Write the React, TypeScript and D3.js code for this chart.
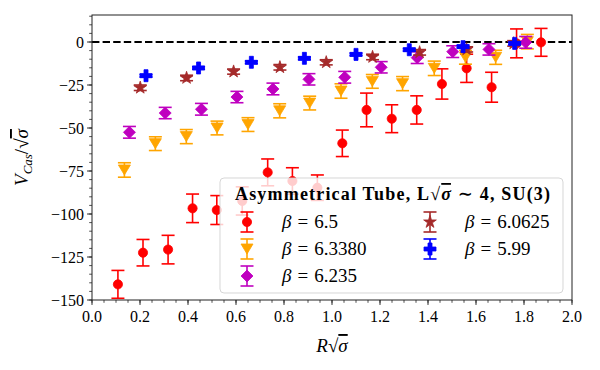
import * as d3 from "d3";

const WIDTH = 600;
const HEIGHT = 370;
const MARGIN = { top: 15, right: 28, bottom: 70, left: 92 };

// beta = 6.5
const redX = [0.108, 0.2125, 0.317, 0.419, 0.52, 0.626, 0.732, 0.835, 0.939, 1.043, 1.144, 1.249, 1.353, 1.458, 1.561, 1.665, 1.769, 1.871];
const redY = [-140.9, -122.5, -120.7, -96.7, -97.7, -92.4, -75.8, -80.8, -84.7, -58.9, -39.5, -44.6, -39.5, -24.4, -15.3, -26.3, -0.8, -0.2];
const redErr = [8.1, 7.7, 8.3, 8.3, 8.4, 8.2, 7.8, 7.7, 7.4, 7.7, 9.8, 8.1, 8.2, 8.8, 8.2, 8.7, 8.4, 8.1];

// beta = 6.3380
const orangeX = [0.135, 0.264, 0.393, 0.521, 0.65, 0.782, 0.907, 1.0375, 1.168, 1.294, 1.426, 1.556, 1.682, 1.814];
const orangeY = [-74.4, -59.1, -55.0, -50.0, -48.0, -40.0, -35.5, -28.5, -22.9, -24.2, -15.3, -8.9, -8.9, 0.2];
const orangeErr = [4.2, 4.0, 4.1, 4.0, 4.0, 4.1, 4.0, 4.2, 4.0, 4.1, 4.2, 4.0, 4.1, 4.2];

// beta = 6.235
const magentaX = [0.156, 0.305, 0.456, 0.604, 0.754, 0.904, 1.053, 1.205, 1.355, 1.503, 1.654, 1.807];
const magentaY = [-52.5, -41.3, -39.1, -32.0, -27.3, -21.7, -20.5, -14.7, -9.1, -5.6, -4.3, -0.2];
const magentaErr = [3.4, 3.3, 3.4, 3.3, 3.4, 3.3, 3.4, 3.3, 3.4, 3.4, 3.3, 3.4];

// beta = 6.0625
const brownX = [0.201, 0.394, 0.59, 0.783, 0.976, 1.169, 1.365, 1.561, 1.757];
const brownY = [-26.6, -20.9, -17.2, -14.7, -11.8, -8.7, -6.0, -4.3, -0.8];
const brownErr = [1.6, 1.6, 1.5, 1.6, 1.5, 1.6, 1.6, 1.5, 1.6];

// beta = 5.99
const blueX = [0.225, 0.444, 0.664, 0.885, 1.1, 1.322, 1.546, 1.761];
const blueY = [-19.6, -15.1, -11.8, -9.5, -7.2, -4.5, -2.7, -0.8];
const blueErr = [0.8, 0.8, 0.8, 0.8, 0.8, 0.8, 0.8, 0.8];

const xTicks = [0, 0.2, 0.4, 0.6, 0.8, 1.0, 1.2, 1.4, 1.6, 1.8, 2.0];
const yTicks = [-150, -125, -100, -75, -50, -25, 0];

const FONT = "'Liberation Serif', 'DejaVu Serif', serif";

const trianglePath = "M0,5L-6,-5L6,-5Z";
const diamondPath = "M0,-6L6,0L0,6L-6,0Z";

const series = [
  { label: "6.5", color: "#ff0000", xs: redX, ys: redY, errs: redErr, marker: d3.symbol(d3.symbolCircle, 66)() ?? "" },
  { label: "6.3380", color: "#ffa500", xs: orangeX, ys: orangeY, errs: orangeErr, marker: trianglePath },
  { label: "6.235", color: "#bf00bf", xs: magentaX, ys: magentaY, errs: magentaErr, marker: diamondPath },
  { label: "6.0625", color: "#a52a2a", xs: brownX, ys: brownY, errs: brownErr, marker: d3.symbol(d3.symbolStar, 50)() ?? "" },
  { label: "5.99", color: "#0000ff", xs: blueX, ys: blueY, errs: blueErr, marker: d3.symbol(d3.symbolCross, 80)() ?? "" }
];

function ErrorMark({ cx, cy, top, bottom, color, marker }) {
  return (
    <g>
      <line x1={cx} x2={cx} y1={top} y2={bottom} stroke={color} strokeWidth="1.6" />
      <line x1={cx - 6.5} x2={cx + 6.5} y1={top} y2={top} stroke={color} strokeWidth="1.6" />
      <line x1={cx - 6.5} x2={cx + 6.5} y1={bottom} y2={bottom} stroke={color} strokeWidth="1.6" />
      <path d={marker} transform={`translate(${cx},${cy})`} fill={color} stroke={color} strokeWidth="0.8" />
    </g>
  );
}

export default function App() {
  const x = d3.scaleLinear().domain([0, 2]).range([MARGIN.left, WIDTH - MARGIN.right]);
  const y = d3.scaleLinear().domain([-150, 15.7]).range([HEIGHT - MARGIN.bottom, MARGIN.top]);
  const [y0, y1] = y.range();
  const fmtY = d3.format("d");
  const fmtX = d3.format(".1f");
  const xMinor = d3.range(0, 2.0001, 0.05);
  const yMinor = d3.range(-150, 15.7, 5);

  const legendRows = [
    { s: series[0], lx: 247, ly: 222 },
    { s: series[1], lx: 247, ly: 249 },
    { s: series[2], lx: 247, ly: 276 },
    { s: series[3], lx: 430, ly: 222 },
    { s: series[4], lx: 430, ly: 249 }
  ];

  return (
    <div style={{ position: "absolute", left: 0, top: 0 }}>
      <svg width={WIDTH} height={HEIGHT} viewBox={`0 0 ${WIDTH} ${HEIGHT}`} fontFamily={FONT}>
        <rect width={WIDTH} height={HEIGHT} fill="#fff" />

        <line x1={x(0)} x2={x(2)} y1={y(0)} y2={y(0)} stroke="#000" strokeWidth="2" strokeDasharray="7.4 3.2" />

        {series.map((s) => (
          <g key={s.label}>
            {s.xs.map((v, i) => (
              <ErrorMark
                key={i}
                cx={x(v)}
                cy={y(s.ys[i])}
                top={y(s.ys[i] + s.errs[i])}
                bottom={y(s.ys[i] - s.errs[i])}
                color={s.color}
                marker={s.marker}
              />
            ))}
          </g>
        ))}

        {/* frame */}
        <rect x={x(0)} y={y1} width={x(2) - x(0)} height={y0 - y1} fill="none" stroke="#222" strokeWidth="1" />

        {/* x ticks */}
        {xMinor.map((t) => (
          <line key={`xm${t}`} x1={x(t)} x2={x(t)} y1={y0} y2={y0 + 2.8} stroke="#222" strokeWidth="0.8" />
        ))}
        {xTicks.map((t) => (
          <g key={`x${t}`}>
            <line x1={x(t)} x2={x(t)} y1={y0} y2={y0 + 4.9} stroke="#222" strokeWidth="1" />
            <text x={x(t)} y={y0 + 22} fontSize="16" textAnchor="middle" fill="#000">
              {fmtX(t)}
            </text>
          </g>
        ))}

        {/* y ticks */}
        {yMinor.map((t) => (
          <line key={`ym${t}`} x1={x(0) - 2.8} x2={x(0)} y1={y(t)} y2={y(t)} stroke="#222" strokeWidth="0.8" />
        ))}
        {yTicks.map((t) => (
          <g key={`y${t}`}>
            <line x1={x(0) - 4.9} x2={x(0)} y1={y(t)} y2={y(t)} stroke="#222" strokeWidth="1" />
            <text x={x(0) - 8} y={y(t) + 5.5} fontSize="16" textAnchor="end" fill="#000">
              {fmtY(t)}
            </text>
          </g>
        ))}

        {/* axis labels */}
        <text x={(x(0) + x(2)) / 2} y={352} fontSize="19" textAnchor="middle" fill="#000">
          <tspan fontStyle="italic">R</tspan>
          <tspan>√</tspan>
          <tspan fontStyle="italic" textDecoration="overline">σ</tspan>
        </text>
        <text transform={`translate(28,${(y0 + y1) / 2}) rotate(-90)`} fontSize="19" textAnchor="middle" fill="#000">
          <tspan fontStyle="italic">V</tspan>
          <tspan fontStyle="italic" fontSize="13" dy="4">Cas</tspan>
          <tspan dy="-4">/√</tspan>
          <tspan fontStyle="italic" textDecoration="overline">σ</tspan>
        </text>

        {/* legend */}
        <g>
          <rect x={220} y={178} width={343} height={115} rx={4} fill="#fff" fillOpacity="0.8" stroke="#ccc" strokeOpacity="0.8" />
          <text x={235} y={200} fontSize="18" fontWeight="bold" fill="#000" textLength="315" lengthAdjust="spacing">
            <tspan>Asymmetrical Tube, L√</tspan>
            <tspan fontStyle="italic" textDecoration="overline">σ</tspan>
            <tspan> ∼ 4, SU(3)</tspan>
          </text>
          {legendRows.map(({ s, lx, ly }) => (
            <g key={`leg${s.label}`}>
              <ErrorMark cx={lx} cy={ly} top={ly - 10} bottom={ly + 10} color={s.color} marker={s.marker} />
              <text x={lx + 35} y={ly + 6} fontSize="19" fill="#000">
                <tspan fontStyle="italic">β</tspan>
                <tspan dx="6">=</tspan>
                <tspan dx="6">{s.label}</tspan>
              </text>
            </g>
          ))}
        </g>
      </svg>
    </div>
  );
}
